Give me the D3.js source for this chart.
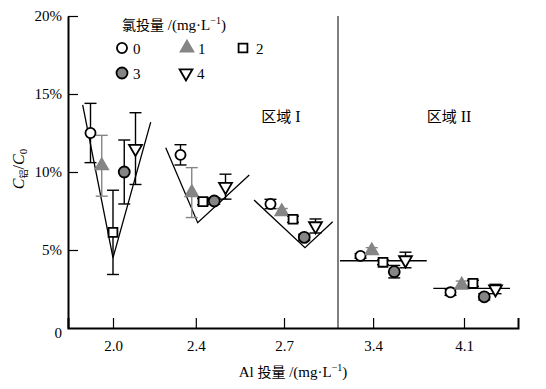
<!DOCTYPE html>
<html>
<head>
<meta charset="utf-8">
<script src="https://cdn.jsdelivr.net/npm/d3@7"></script>
<style>
  body { margin: 0; background: #fff; }
  text { font-family: "Liberation Serif", "Noto Sans CJK SC", serif; fill: #000; }
</style>
</head>
<body>
<svg width="546" height="389"></svg>
<script>
// Al dose categories (x axis) and chlorine dose series (legend)
const alLabels = ["2.0", "2.4", "2.7", "3.4", "4.1"];
const clLabels = ["0", "1", "2", "3", "4"];

// C_Al / C0 in %, one array per chlorine dose, one value per Al dose
const series0 = [12.5, 11.1, 7.95, 4.62, 2.29];
const series1 = [10.4, 8.68, 7.46, 4.95, 2.76];
const series2 = [6.13, 8.1, 6.97, 4.21, 2.86];
const series3 = [10.0, 8.14, 5.81, 3.61, 2.0];
const series4 = [11.5, 9.06, 6.54, 4.36, 2.5];

// error bar half-widths (%)
const err0 = [1.9, 0.65, 0.3, 0.15, 0.2];
const err1 = [1.95, 1.6, 0.2, 0.2, 0.25];
const err2 = [2.7, 0.2, 0.2, 0.15, 0.2];
const err3 = [2.05, 0.2, 0.2, 0.4, 0.2];
const err4 = [2.3, 0.8, 0.45, 0.5, 0.3];

// guide lines drawn around each group: [category index, value %]
const guides = [
  [[-0.337, 14.3], [0, 4.5], [0.419, 13.2]],
  [[0.586, 11.56], [0.941, 6.75], [1.514, 9.81]],
  [[1.567, 8.2], [2.133, 5.15], [2.441, 6.81]],
  [[2.522, 4.31], [3.486, 4.31]],
  [[3.559, 2.54], [4.411, 2.54]]
];

const yTicks = [0, 5, 10, 15, 20];

const svg = d3.select("svg");

// layout
const x = d3.scaleLinear().domain([-0.5, 4.5]).range([68, 518]);
const y = d3.scaleLinear().domain([0, 20]).range([328, 16]);
const tickPos = [0, 0.92, 1.9, 2.89, 3.9];   // where the category ticks sit
const step = 0.125;                           // spacing between series inside a group
const gray = "#858585";

const styles = [
  {shape: d3.symbolCircle,   size: 80, fill: "#fff", stroke: "#000", bar: "#000", rot: 0},
  {shape: d3.symbolTriangle, size: 70, fill: gray,   stroke: gray,   bar: gray,   rot: 0},
  {shape: d3.symbolSquare,   size: 78, fill: "#fff", stroke: "#000", bar: "#000", rot: 0},
  {shape: d3.symbolCircle,   size: 95, fill: gray,   stroke: "#000", bar: "#000", rot: 0},
  {shape: d3.symbolTriangle, size: 72, fill: "#fff", stroke: "#000", bar: "#000", rot: 180}
];

const values = [series0, series1, series2, series3, series4];
const errors = [err0, err1, err2, err3, err4];

const points = [];
values.forEach(function(vals, s) {
  vals.forEach(function(v, i) {
    points.push({s: s, i: i, v: v, e: errors[s][i], cx: x(i + (s - 2) * step)});
  });
});

// divider between region I and II
svg.append("line")
  .attr("x1", x(2.5)).attr("x2", x(2.5))
  .attr("y1", y(20)).attr("y2", y(0))
  .attr("stroke", "#000").attr("stroke-width", 1);

// axes
const xAxis = svg.append("g")
  .attr("transform", `translate(0,${y(0)})`)
  .call(d3.axisBottom(x)
    .tickValues(tickPos)
    .tickSize(-10)
    .tickSizeOuter(-10)
    .tickPadding(12)
    .tickFormat((d, i) => alLabels[i]));

const yAxis = svg.append("g")
  .attr("transform", `translate(${x(-0.5)},0)`)
  .call(d3.axisLeft(y)
    .tickValues(yTicks)
    .tickSize(-10)
    .tickSizeOuter(0)
    .tickPadding(6)
    .tickFormat(d => d === 0 ? "0" : d + "%"));

[xAxis, yAxis].forEach(function(a) {
  a.select(".domain").attr("stroke-width", 2);
  a.selectAll(".tick line").attr("stroke-width", 1.2);
  a.selectAll("text").attr("font-size", 15).attr("font-family", "Liberation Serif");
});
yAxis.selectAll(".tick").filter(d => d === 0).select("line").remove();
yAxis.selectAll(".tick").filter(d => d === 0).select("text").attr("dy", "0.6em");

// guide lines
const line = d3.line().x(d => x(d[0])).y(d => y(d[1]));
svg.append("g").selectAll("path")
  .data(guides)
  .enter()
  .append("path")
  .attr("d", line)
  .attr("fill", "none")
  .attr("stroke", "#000")
  .attr("stroke-width", 1.3);

// error bars
const bars = svg.append("g").selectAll("g")
  .data(points)
  .enter()
  .append("g")
  .attr("stroke", d => styles[d.s].bar)
  .attr("stroke-width", 1.4);

bars.append("line")
  .attr("x1", d => d.cx).attr("x2", d => d.cx)
  .attr("y1", d => y(d.v + d.e)).attr("y2", d => y(d.v - d.e));
bars.append("line")
  .attr("x1", d => d.cx - 6).attr("x2", d => d.cx + 6)
  .attr("y1", d => y(d.v + d.e)).attr("y2", d => y(d.v + d.e));
bars.append("line")
  .attr("x1", d => d.cx - 6).attr("x2", d => d.cx + 6)
  .attr("y1", d => y(d.v - d.e)).attr("y2", d => y(d.v - d.e));

// markers
function drawMarker(sel) {
  sel.attr("d", d => d3.symbol().type(styles[d.s].shape).size(styles[d.s].size)())
    .attr("fill", d => styles[d.s].fill)
    .attr("stroke", d => styles[d.s].stroke)
    .attr("stroke-width", 1.8);
}

svg.append("g").selectAll("path")
  .data(points)
  .enter()
  .append("path")
  .attr("transform", d => `translate(${d.cx},${y(d.v)}) rotate(${styles[d.s].rot})`)
  .call(drawMarker);

// legend
const legend = svg.append("g");
const title = legend.append("text")
  .attr("x", 122).attr("y", 30)
  .attr("font-size", 15);
title.append("tspan").attr("font-family", "Noto Sans CJK SC").attr("font-size", 14).text("氯投量");
title.append("tspan").text(" /(mg·L");
title.append("tspan").attr("font-size", 10).attr("dy", -6).text("−1");
title.append("tspan").attr("dy", 6).text(")");

const legendPos = [[122, 48], [187, 48], [243, 48], [122, 73], [186, 73]];
const items = legend.selectAll("g.item")
  .data(clLabels.map((l, s) => ({s: s, label: l})))
  .enter()
  .append("g")
  .attr("class", "item")
  .attr("transform", d => `translate(${legendPos[d.s][0]},${legendPos[d.s][1]})`);

items.append("path")
  .attr("transform", d => `rotate(${styles[d.s].rot})`)
  .call(drawMarker);

items.append("text")
  .attr("x", d => d.s === 2 ? 13 : 11)
  .attr("y", 6)
  .attr("font-size", 15)
  .text(d => d.label);

// region labels
function regionLabel(cx, numeral) {
  const t = svg.append("text")
    .attr("x", cx).attr("y", 122)
    .attr("text-anchor", "middle")
    .attr("font-size", 15);
  t.append("tspan").attr("font-family", "Noto Sans CJK SC").text("区域");
  t.append("tspan").attr("font-family", "Liberation Serif").attr("font-size", 16).text(" " + numeral);
}
regionLabel(281, "I");
regionLabel(449, "II");

// x title
const xt = svg.append("text")
  .attr("x", 293).attr("y", 377)
  .attr("text-anchor", "middle")
  .attr("font-size", 15);
xt.append("tspan").text("Al ");
xt.append("tspan").attr("font-family", "Noto Sans CJK SC").attr("font-size", 14).text("投量");
xt.append("tspan").text(" /(mg·L");
xt.append("tspan").attr("font-size", 10).attr("dy", -6).text("−1");
xt.append("tspan").attr("dy", 6).text(")");

// y title
const yt = svg.append("text")
  .attr("transform", "translate(24,169) rotate(-90)")
  .attr("text-anchor", "middle")
  .attr("font-size", 16);
yt.append("tspan").attr("font-style", "italic").text("C");
yt.append("tspan").attr("font-family", "Noto Sans CJK SC").attr("font-size", 9).attr("dy", 3).text("铝");
yt.append("tspan").attr("dy", -3).text("/");
yt.append("tspan").attr("font-style", "italic").text("C");
yt.append("tspan").attr("font-size", 11).attr("dy", 3).text("0");
</script>
</body>
</html>
